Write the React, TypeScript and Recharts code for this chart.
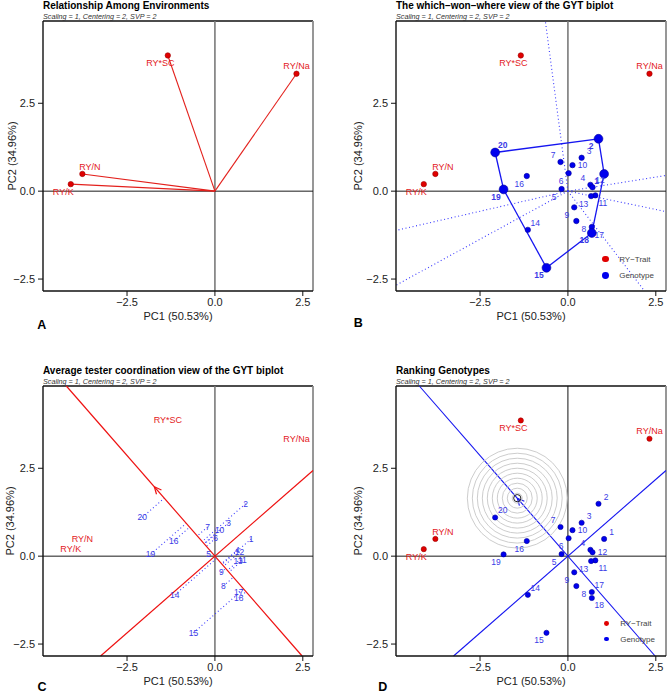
import React from 'react';
import { ComposedChart, Scatter, XAxis, YAxis, ReferenceLine, ReferenceDot } from 'recharts';

// environments (traits)
const envNames = ['RY*SC', 'RY/Na', 'RY/N', 'RY/K'];
const envPC1 = [-1.34, 2.32, -3.77, -4.1];
const envPC2 = [3.86, 3.34, 0.49, 0.2];

// genotypes
const genoNames = ['1', '2', '3', '4', '5', '6', '7', '8', '9', '10', '11', '12', '13', '14', '15', '16', '17', '18', '19', '20'];
const genoPC1 = [1.03, 0.87, 0.39, 0.64, -0.18, 0.02, -0.21, 0.24, 0.18, 0.13, 0.78, 0.7, 0.66, -1.14, -0.61, -1.17, 0.68, 0.68, -1.83, -2.07];
const genoPC2 = [0.49, 1.49, 0.95, 0.18, 0.06, 0.51, 0.83, -0.85, -0.46, 0.74, -0.12, 0.11, -0.14, -1.1, -2.18, 0.43, -1.02, -1.19, 0.05, 1.1];

const axisTicks = [-2.5, 0, 2.5];
const xTitle = 'PC1 (50.53%)';
const yTitle = 'PC2 (34.96%)';
const subtitle = 'Scaling = 1, Centering = 2, SVP = 2';

// label placement around each point
const envLabelPos = ['sw', 'n', 'ne', 'sw'];
const genoLabelPosB = ['sw', 'sw', 'ne', 'nw', 'sw', 'sw', 'nw', 'se', 'sw', 'e', 'se', 'ne', 'sw', 'ne', 'sw', 'sw', 'se', 'sw', 'sw', 'ne'];
const genoLabelPosD = ['ne', 'ne', 'ne', 'nw', 'sw', 'sw', 'nw', 'se', 'sw', 'e', 'se', 'e', 'sw', 'ne', 'sw', 'sw', 'ne', 'se', 'sw', 'ne'];

const FONT = '"Liberation Sans", Arial, Helvetica, sans-serif';
const X_DOM: [number, number] = [-4.89, 2.79];
const Y_DOM: [number, number] = [-2.84, 4.84];
const PLOT = 270;
const CW = 316;
const CH = 340;
const PX = PLOT / (X_DOM[1] - X_DOM[0]);

const RED = '#e3201c';
const BLUE = '#1515f0';
const LBLUE = '#3a3ae6';

const OFF: Record<string, [number, number]> = {
  c: [0, 0], n: [0, -8], s: [0, 8], e: [10, 0], w: [-10, 0],
  ne: [7.5, -7], nw: [-7.5, -7], se: [7.5, 7.5], sw: [-7.5, 7.5],
};

type Pt = { x: number; y: number; name: string; pos: string; big?: boolean };

const envPts = (pos: string[] | null): Pt[] =>
  envNames.map((name, i) => ({ x: envPC1[i], y: envPC2[i], name, pos: pos ? pos[i] : 'c' }));
const genoPts = (pos: string[] | null): Pt[] =>
  genoNames.map((name, i) => ({ x: genoPC1[i], y: genoPC2[i], name, pos: pos ? pos[i] : 'c' }));

// ---- geometry helpers ----
function rayEnd(dx: number, dy: number) {
  let t = Infinity;
  if (dx > 0) t = Math.min(t, X_DOM[1] / dx);
  if (dx < 0) t = Math.min(t, X_DOM[0] / dx);
  if (dy > 0) t = Math.min(t, Y_DOM[1] / dy);
  if (dy < 0) t = Math.min(t, Y_DOM[0] / dy);
  return { x: dx * t, y: dy * t };
}

function convexHull(pts: Pt[]): number[] {
  const idx = pts.map((_, i) => i).sort((a, b) => pts[a].x - pts[b].x || pts[a].y - pts[b].y);
  const cross = (o: number, a: number, b: number) =>
    (pts[a].x - pts[o].x) * (pts[b].y - pts[o].y) - (pts[a].y - pts[o].y) * (pts[b].x - pts[o].x);
  const lower: number[] = [];
  for (const i of idx) {
    while (lower.length >= 2 && cross(lower[lower.length - 2], lower[lower.length - 1], i) <= 0) lower.pop();
    lower.push(i);
  }
  const upper: number[] = [];
  for (const i of [...idx].reverse()) {
    while (upper.length >= 2 && cross(upper[upper.length - 2], upper[upper.length - 1], i) <= 0) upper.pop();
    upper.push(i);
  }
  return lower.slice(0, -1).concat(upper.slice(0, -1));
}

function arrowHead(tip: { x: number; y: number }, ux: number, uy: number, len: number) {
  const a = (25 * Math.PI) / 180;
  return [a, -a].map((ang) => {
    const rx = ux * Math.cos(ang) - uy * Math.sin(ang);
    const ry = ux * Math.sin(ang) + uy * Math.cos(ang);
    return { x: tip.x - len * rx, y: tip.y - len * ry };
  });
}

const meanX = envPC1.reduce((s, v) => s + v, 0) / envPC1.length;
const meanY = envPC2.reduce((s, v) => s + v, 0) / envPC2.length;
const mLen = Math.hypot(meanX, meanY);
const ux = meanX / mLen;
const uy = meanY / mLen;
const atcAbs = [rayEnd(-ux, -uy), rayEnd(ux, uy)];
const atcOrd = [rayEnd(-uy, ux), rayEnd(uy, -ux)];
const projections = genoPC1.map((gx, i) => gx * ux + genoPC2[i] * uy);
const bestProj = Math.max(...projections);
const ideal = { x: bestProj * ux, y: bestProj * uy };

const allGeno = genoPts(null);
const hullIdx = convexHull(allGeno);
const hullEdges = hullIdx.map((a, k) => [allGeno[a], allGeno[hullIdx[(k + 1) % hullIdx.length]]]);
const sectorRays = hullEdges.map(([p, q]) => {
  const dx = q.x - p.x;
  const dy = q.y - p.y;
  const t = -(p.x * dx + p.y * dy) / (dx * dx + dy * dy);
  return rayEnd(p.x + t * dx, p.y + t * dy);
});

const fmt = (v: number) => (v < 0 ? '\u2212' + Math.abs(v).toFixed(1) : v.toFixed(1));

function pointShape(opt: {
  dot: boolean; fill: string; stroke: string; r: number; bigR?: number;
  text: string; size: number; boldBig?: boolean;
}) {
  return (props: any) => {
    const { cx, cy, payload } = props;
    const p = payload as Pt;
    const [dx, dy] = OFF[p.pos] || OFF.c;
    return (
      <g>
        {opt.dot && (
          <circle cx={cx} cy={cy} r={p.big && opt.bigR ? opt.bigR : opt.r} fill={opt.fill} stroke={opt.stroke} strokeWidth={0.6} />
        )}
        <text
          x={cx + dx}
          y={cy + dy}
          textAnchor="middle"
          dominantBaseline="central"
          fontSize={opt.size}
          fontWeight={p.big && opt.boldBig ? 'bold' : 'normal'}
          fill={opt.text}
          fontFamily={FONT}
        >
          {p.name}
        </text>
      </g>
    );
  };
}

function Panel(props: {
  left: number; top: number; title: string; yLabelX: number; vColor: string; vWidth: number;
  children: React.ReactNode;
}) {
  const { left, top, title, yLabelX, vColor, vWidth, children } = props;
  return (
    <div style={{ position: 'absolute', left, top, width: CW, height: CH }}>
      <ComposedChart width={CW} height={CH} margin={{ top: 21, right: 3, bottom: 19, left: 0 }}>
        <XAxis
          type="number" dataKey="x" domain={X_DOM} allowDataOverflow ticks={axisTicks} interval={0}
          tickFormatter={fmt} height={30} tickSize={5} tickMargin={2}
          axisLine={{ stroke: '#111', strokeWidth: 1.4 }} tickLine={{ stroke: '#111' }}
          tick={{ fontSize: 11, fill: '#222', fontFamily: FONT }}
        />
        <YAxis
          type="number" dataKey="y" domain={Y_DOM} allowDataOverflow ticks={axisTicks} interval={0}
          tickFormatter={fmt} width={43} tickSize={5} tickMargin={3}
          axisLine={{ stroke: '#111', strokeWidth: 1.4 }} tickLine={{ stroke: '#111' }}
          tick={{ fontSize: 11, fill: '#222', fontFamily: FONT }}
        />
        <ReferenceLine y={Y_DOM[1]} stroke="#111" strokeWidth={1.4} ifOverflow="visible" />
        <ReferenceLine x={X_DOM[1]} stroke="#8c8c8c" strokeWidth={1.8} ifOverflow="visible" />
        <ReferenceLine x={0} stroke={vColor} strokeWidth={vWidth} />
        <ReferenceLine y={0} stroke="#1a1a1a" strokeWidth={1} />
        {children}
      </ComposedChart>
      <div style={{ position: 'absolute', left: 43, top: 0, fontSize: 10, fontWeight: 'bold', lineHeight: '11px', whiteSpace: 'nowrap', fontFamily: FONT }}>
        {title}
      </div>
      <div style={{ position: 'absolute', left: 43, top: 11.5, fontSize: 7.2, fontStyle: 'italic', color: '#333', lineHeight: '9px', whiteSpace: 'nowrap', fontFamily: FONT }}>
        {subtitle}
      </div>
      <div style={{ position: 'absolute', left: 78, top: 309, width: 200, textAlign: 'center', fontSize: 11, lineHeight: '14px', color: '#222', fontFamily: FONT }}>
        {xTitle}
      </div>
      <div style={{ position: 'absolute', left: yLabelX - 100, top: 149, width: 200, textAlign: 'center', fontSize: 11, lineHeight: '14px', color: '#222', transform: 'rotate(-90deg)', fontFamily: FONT }}>
        {yTitle}
      </div>
    </div>
  );
}

function Letter({ x, y, t }: { x: number; y: number; t: string }) {
  return (
    <div style={{ position: 'absolute', left: x - 10, top: y - 8, width: 20, textAlign: 'center', fontSize: 12.5, fontWeight: 'bold', lineHeight: '16px', fontFamily: FONT }}>
      {t}
    </div>
  );
}

function LegendBox({ x, y, r, gap }: { x: number; y: number; r: number; gap: number }) {
  const items = [{ c: '#e00000', t: 'RY\u2212Trait' }, { c: '#0000ee', t: 'Genotype' }];
  return (
    <>
      {items.map((it, i) => (
        <div key={it.t} style={{ position: 'absolute', left: x - r, top: y + i * gap - 6, height: 12, display: 'flex', alignItems: 'center', whiteSpace: 'nowrap', fontFamily: FONT }}>
          <span style={{ width: 2 * r, height: 2 * r, borderRadius: '50%', background: it.c, display: 'inline-block' }} />
          <span style={{ marginLeft: 13.5 - r, fontSize: 8, color: '#444' }}>{it.t}</span>
        </div>
      ))}
    </>
  );
}

const dotted = { stroke: '#3b3bff', strokeWidth: 1.1, strokeDasharray: '1 2.6' };

export default function App() {
  const bGeno = genoPts(genoLabelPosB).map((p, i) => ({ ...p, big: hullIdx.includes(i) }));
  const ringStep = 0.142 * PX;

  return (
    <div style={{ position: 'absolute', left: 0, top: 0, width: 669, height: 693, background: '#fff', overflow: 'hidden' }}>
      {/* A */}
      <Panel left={0} top={0} title="Relationship Among Environments" yLabelX={12} vColor="#7a7a7a" vWidth={1.6}>
        {envPts(null).map((p) => (
          <ReferenceLine key={'v' + p.name} segment={[{ x: 0, y: 0 }, { x: p.x, y: p.y }]} stroke={RED} strokeWidth={1.1} ifOverflow="visible" />
        ))}
        <Scatter data={envPts(envLabelPos)} isAnimationActive={false}
          shape={pointShape({ dot: true, fill: '#e00000', stroke: '#9a0000', r: 2.7, text: RED, size: 9 })} />
      </Panel>

      {/* B */}
      <Panel left={353} top={0} title={'The which\u2212won\u2212where view of the GYT biplot'} yLabelX={5} vColor="#7a7a7a" vWidth={1.6}>
        {sectorRays.map((e, i) => (
          <ReferenceLine key={'r' + i} segment={[{ x: 0, y: 0 }, e]} {...dotted} ifOverflow="visible" />
        ))}
        {hullEdges.map(([p, q], i) => (
          <ReferenceLine key={'h' + i} segment={[{ x: p.x, y: p.y }, { x: q.x, y: q.y }]} stroke={BLUE} strokeWidth={1.3} ifOverflow="visible" />
        ))}
        <Scatter data={envPts(envLabelPos)} isAnimationActive={false}
          shape={pointShape({ dot: true, fill: '#e00000', stroke: '#9a0000', r: 2.7, text: RED, size: 9 })} />
        <Scatter data={bGeno} isAnimationActive={false}
          shape={pointShape({ dot: true, fill: '#0000ee', stroke: '#00009a', r: 2.7, bigR: 4.4, text: LBLUE, size: 8.5, boldBig: true })} />
      </Panel>

      {/* C */}
      <Panel left={0} top={365} title="Average tester coordination view of the GYT biplot" yLabelX={10} vColor="#7a7a7a" vWidth={1.6}>
        {allGeno.map((g, i) => (
          <ReferenceLine key={'p' + i} segment={[{ x: g.x, y: g.y }, { x: projections[i] * ux, y: projections[i] * uy }]} {...dotted} ifOverflow="visible" />
        ))}
        <ReferenceLine segment={atcAbs} stroke="#ee1111" strokeWidth={1.2} ifOverflow="visible" />
        <ReferenceLine segment={atcOrd} stroke="#ee1111" strokeWidth={1.2} ifOverflow="visible" />
        {arrowHead({ x: meanX, y: meanY }, ux, uy, 0.22).map((b, i) => (
          <ReferenceLine key={'a' + i} segment={[{ x: meanX, y: meanY }, b]} stroke="#ee1111" strokeWidth={1.2} ifOverflow="visible" />
        ))}
        <Scatter data={genoPts(null)} isAnimationActive={false}
          shape={pointShape({ dot: false, fill: 'none', stroke: 'none', r: 0, text: LBLUE, size: 8.5 })} />
        <Scatter data={envPts(null)} isAnimationActive={false}
          shape={pointShape({ dot: false, fill: 'none', stroke: 'none', r: 0, text: RED, size: 9 })} />
      </Panel>

      {/* D */}
      <Panel left={353} top={365} title="Ranking Genotypes" yLabelX={5} vColor="#111" vWidth={1}>
        {Array.from({ length: 10 }, (_, k) => (
          <ReferenceDot key={'c' + k} x={ideal.x} y={ideal.y} r={(k + 1) * ringStep} fill="none" stroke="#cdcdcd" strokeWidth={1} ifOverflow="visible" />
        ))}
        <ReferenceLine segment={atcAbs} stroke={BLUE} strokeWidth={1.1} ifOverflow="visible" />
        <ReferenceLine segment={atcOrd} stroke={BLUE} strokeWidth={1.1} ifOverflow="visible" />
        {arrowHead(ideal, ux, uy, 0.22).map((b, i) => (
          <ReferenceLine key={'a' + i} segment={[ideal, b]} stroke={BLUE} strokeWidth={1.1} ifOverflow="visible" />
        ))}
        <ReferenceDot x={ideal.x} y={ideal.y} r={3.6} fill="none" stroke="#222" strokeWidth={1} ifOverflow="visible" />
        <Scatter data={envPts(envLabelPos)} isAnimationActive={false}
          shape={pointShape({ dot: true, fill: '#e00000', stroke: '#9a0000', r: 2.6, text: RED, size: 9 })} />
        <Scatter data={genoPts(genoLabelPosD)} isAnimationActive={false}
          shape={pointShape({ dot: true, fill: '#0000ee', stroke: '#00009a', r: 2.6, text: LBLUE, size: 8.5 })} />
      </Panel>

      <LegendBox x={605.7} y={259} r={3.4} gap={16.3} />
      <LegendBox x={606.7} y={623.3} r={2.4} gap={15.7} />

      <Letter x={41.7} y={325} t="A" />
      <Letter x={358.3} y={323} t="B" />
      <Letter x={42} y={687} t="C" />
      <Letter x={382.7} y={687} t="D" />
    </div>
  );
}
